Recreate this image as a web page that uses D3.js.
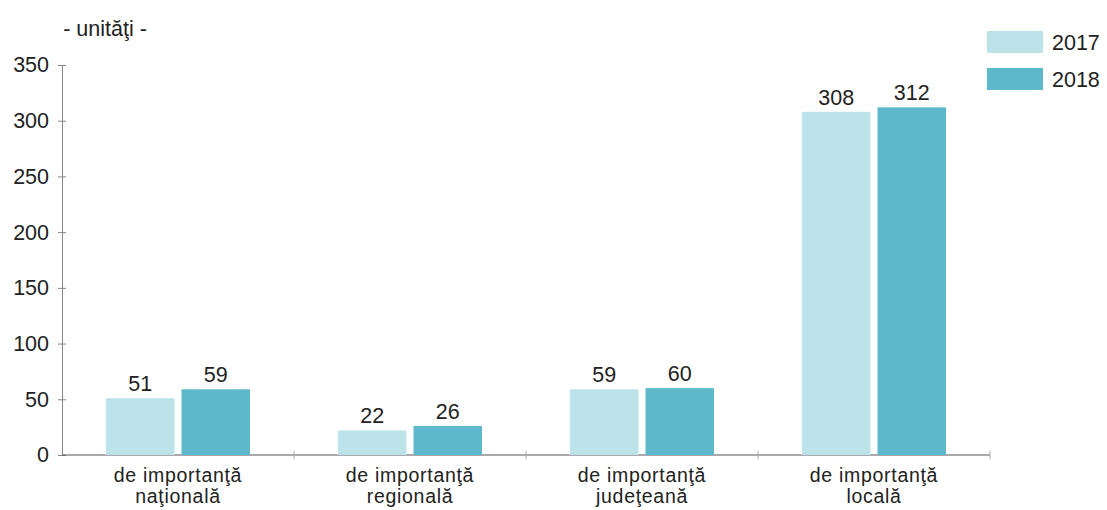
<!DOCTYPE html>
<html><head><meta charset="utf-8">
<script src="https://cdn.jsdelivr.net/npm/d3@7"></script>
<style>body{margin:0;background:#fff}text{font-family:"Liberation Sans",Arial,sans-serif;fill:#222}</style>
</head><body>
<svg id="c" width="1107" height="510"></svg>
<script>
const categories = [["de importanţă","naţională"],["de importanţă","regională"],["de importanţă","judeţeană"],["de importanţă","locală"]];
const series = ["2017","2018"];
const values2017 = [51,22,59,308];
const values2018 = [59,26,60,312];
const yTicks = [0,50,100,150,200,250,300,350];
const colors = ["#bde3ea","#5db8cc"];
const FS = "21.5px";

const svg = d3.select("#c");
const x0 = d3.scaleBand().domain(d3.range(categories.length)).range([62,990]).padding(0);
const x1 = d3.scaleBand().domain(series).range([44,188]).paddingInner(0.093).paddingOuter(0);
const y = d3.scaleLinear().domain([0,350]).range([455,65]);

// y axis
const ya = svg.append("g").attr("transform","translate(62,0)")
  .call(d3.axisLeft(y).tickValues(yTicks).tickSize(4).tickSizeOuter(0));
ya.select(".domain").attr("stroke","#888");
ya.selectAll(".tick line").attr("stroke","#888").attr("x2",4).attr("x1",-4);
ya.selectAll(".tick text").attr("x",-13).style("font-size",FS).attr("fill","#222");

// x axis
svg.append("line").attr("x1",62).attr("x2",990).attr("y1",455).attr("y2",455).attr("stroke","#555");
svg.selectAll(".xt").data(d3.range(1,categories.length+1)).enter().append("line")
  .attr("x1",d=>62+d*x0.bandwidth()).attr("x2",d=>62+d*x0.bandwidth())
  .attr("y1",451).attr("y2",459).attr("stroke","#aaa");

const data = [values2017, values2018];
const g = svg.append("g");
categories.forEach((c,i)=>{
  series.forEach((s,j)=>{
    const v = data[j][i];
    const bx = x0(i)+x1(s);
    g.append("rect").attr("x",bx).attr("y",y(v)).attr("width",x1.bandwidth()).attr("height",y(0)-y(v)).attr("fill",colors[j]);
    g.append("text").attr("x",bx+x1.bandwidth()/2).attr("y",y(v)-7).attr("text-anchor","middle").style("font-size",FS).text(v);
  });
  const cx = x0(i)+(x1.range()[0]+x1.range()[1])/2;
  [0,1].forEach(k=>{
    g.append("text").attr("x",cx).attr("y",482+k*21).attr("text-anchor","middle")
      .style("font-size","19.5px").style("letter-spacing","0.7px").text(c[k]);
  });
});

svg.append("text").attr("x",105).attr("y",36).attr("text-anchor","middle").style("font-size",FS).text("- unităţi -");

// legend
series.forEach((s,j)=>{
  svg.append("rect").attr("x",987).attr("y",31+j*37).attr("width",56).attr("height",22).attr("fill",colors[j]);
  svg.append("text").attr("x",1052).attr("y",50+j*37).style("font-size",FS).text(s);
});
</script>
</body></html>
